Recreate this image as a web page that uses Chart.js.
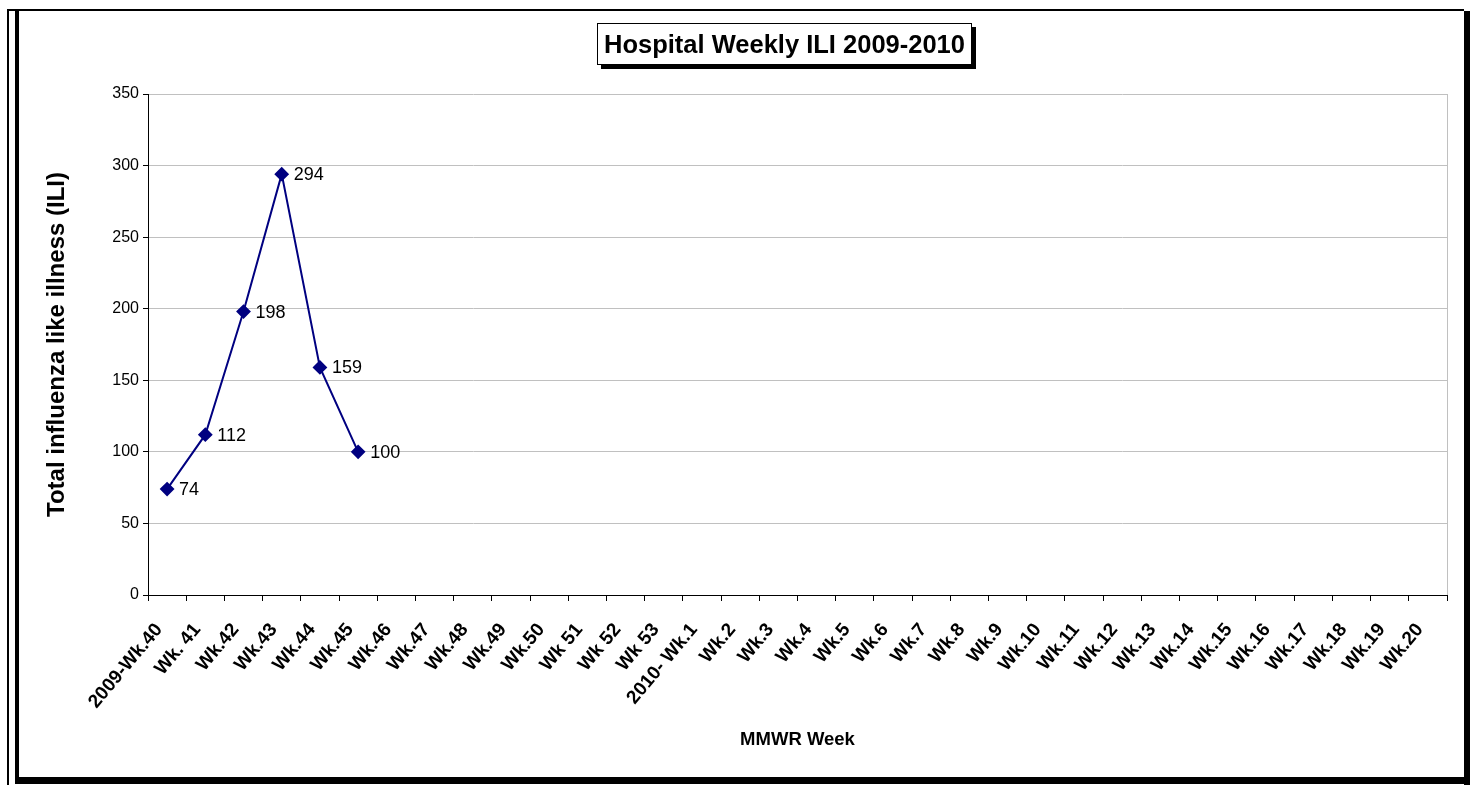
<!DOCTYPE html>
<html>
<head>
<meta charset="utf-8">
<title>Hospital Weekly ILI 2009-2010</title>
<script src="https://cdn.jsdelivr.net/npm/chart.js@4/dist/chart.umd.min.js"></script>
<style>
    html, body { margin: 0; padding: 0; background: #fff; }
    #wrap { position: relative; width: 1470px; height: 785px; overflow: hidden; font-family: 'Liberation Sans', Arial, sans-serif; }
    #chart { position: absolute; left: 0; top: 0; }
    .edge { position: absolute; background: #000; }
    #chartTitle {
        position: absolute; left: 597px; top: 23px; width: 375px; height: 42px;
        box-sizing: border-box; border: 1px solid #000; background: #fff;
        box-shadow: 4px 4px 0 #000;
        font: bold 25.5px 'Liberation Sans', Arial, sans-serif;
        line-height: 40px; text-align: center; color: #000; white-space: nowrap;
    }
</style>
</head>
<body>
<div id="wrap">
    <canvas id="chart" width="1470" height="785"></canvas>
    <!-- outer frame with drop shadow -->
    <div class="edge" style="left:7px; top:9px; width:1457px; height:2px;"></div>
    <div class="edge" style="left:7px; top:9px; width:2px; height:776px;"></div>
    <div class="edge" style="left:15px; top:11px; width:4px; height:767px;"></div>
    <div class="edge" style="left:1464px; top:11px; width:6px; height:774px;"></div>
    <div class="edge" style="left:15px; top:777px; width:1455px; height:7px;"></div>
    <div id="chartTitle">Hospital Weekly ILI 2009-2010</div>
</div>
<script>
// weeks on the x axis
const weeks = [
    '2009-Wk.40', 'Wk. 41', 'Wk.42', 'Wk.43', 'Wk.44', 'Wk.45', 'Wk.46', 'Wk.47', 'Wk.48', 'Wk.49',
    'Wk.50', 'Wk 51', 'Wk 52', 'Wk 53', '2010- Wk.1', 'Wk.2', 'Wk.3', 'Wk.4', 'Wk.5', 'Wk.6',
    'Wk.7', 'Wk.8', 'Wk.9', 'Wk.10', 'Wk.11', 'Wk.12', 'Wk.13', 'Wk.14', 'Wk.15', 'Wk.16',
    'Wk.17', 'Wk.18', 'Wk.19', 'Wk.20'
];

// total ILI reported each week (only the first six weeks so far)
const iliTotals = [74, 112, 198, 294, 159, 100];

const yMin = 0;
const yMax = 350;
const yStep = 50;

const FONT = "'Liberation Sans', Arial, sans-serif";
const NAVY = '#000080';
const GRID = '#c0c0c0';

// value labels to the right of each marker
const pointLabels = {
    id: 'pointLabels',
    afterDatasetsDraw(chart) {
        const ctx = chart.ctx;
        const meta = chart.getDatasetMeta(0);
        ctx.save();
        ctx.font = '18px ' + FONT;
        ctx.fillStyle = '#000';
        ctx.textAlign = 'left';
        ctx.textBaseline = 'middle';
        meta.data.forEach((pt, i) => {
            const v = chart.data.datasets[0].data[i];
            if (v == null) return;
            ctx.fillText(String(v), pt.x + 12, pt.y + 1);
        });
        ctx.restore();
    }
};

new Chart(document.getElementById('chart').getContext('2d'), {
    type: 'line',
    data: {
        labels: weeks,
        datasets: [{
            label: 'ILI',
            data: iliTotals,
            borderColor: NAVY,
            backgroundColor: NAVY,
            borderWidth: 2,
            pointStyle: 'rectRot',
            pointRadius: 6,
            pointHoverRadius: 6,
            tension: 0
        }]
    },
    options: {
        responsive: false,
        animation: false,
        events: [],
        layout: { padding: { left: 0, right: 23, top: 94, bottom: 0 } },
        plugins: {
            legend: { display: false },
            title: { display: false },
            tooltip: { enabled: false }
        },
        scales: {
            x: {
                offset: true,
                afterFit: s => { s.height = 190; },
                border: { display: true, color: '#000', width: 1 },
                grid: {
                    offset: true,
                    drawOnChartArea: true,
                    color: c => (c.type === 'scale' ? GRID : 'rgba(0,0,0,0)'),
                    tickColor: '#000',
                    tickLength: 6,
                    lineWidth: 1
                },
                ticks: {
                    autoSkip: false,
                    minRotation: 50,
                    maxRotation: 50,
                    padding: 18,
                    labelOffset: -8,
                    color: '#000',
                    font: { family: FONT, size: 19, weight: 'bold' }
                },
                title: {
                    display: true,
                    text: 'MMWR Week',
                    color: '#000',
                    font: { family: FONT, size: 18.5, weight: 'bold' },
                    padding: { top: 0, bottom: 34 }
                }
            },
            y: {
                min: yMin,
                max: yMax,
                afterFit: s => { s.width = 148; },
                border: { display: true, color: '#000', width: 1 },
                grid: {
                    color: GRID,
                    tickColor: '#000',
                    tickLength: 5,
                    lineWidth: 1
                },
                ticks: {
                    stepSize: yStep,
                    padding: 4,
                    color: '#000',
                    font: { family: FONT, size: 16 }
                },
                title: {
                    display: true,
                    text: 'Total influenza like illness (ILI)',
                    color: '#000',
                    font: { family: FONT, size: 24, weight: 'bold' },
                    padding: { top: 43, bottom: 0 }
                }
            }
        }
    },
    plugins: [pointLabels]
});
</script>
</body>
</html>
